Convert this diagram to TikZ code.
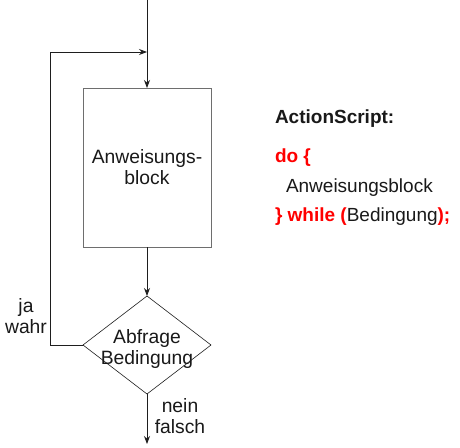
\documentclass[tikz,border=0pt]{standalone}
\usepackage{fontspec}
\setmainfont{Liberation Sans}
\usetikzlibrary{shapes.geometric,arrows.meta}
\definecolor{linec}{HTML}{1E1E1E}
\definecolor{boxc}{HTML}{6E6E6E}
\definecolor{codered}{HTML}{FF0000}
\begin{document}
\begin{tikzpicture}[x=1pt,y=-1pt,
  txt/.style={font=\fontsize{19.3}{20.5}\selectfont, inner sep=0pt, outer sep=0pt, align=center, text=black!90},
  arr/.style={draw=linec, line width=0.9pt, -{Stealth[length=8pt,width=6pt]}},
  blockbox/.style={draw=boxc, line width=0.8pt, minimum width=128pt, minimum height=159pt, inner sep=0pt, outer sep=0pt, align=center, font=\fontsize{19.3}{21}\selectfont, text=black!90},
  decision/.style={diamond, draw=linec, line width=0.6pt, minimum width=128pt, minimum height=98pt, inner sep=0pt, outer sep=0pt},
  code/.style={font=\fontsize{19}{21}\selectfont, inner sep=0pt, outer sep=0pt, anchor=base west, text=black!90}
]
\useasboundingbox (0,0) rectangle (460,447);
\fill[white] (0,0) rectangle (460,447);

\node[blockbox] (box) at (147,167.5) {Anweisungs-\\block};
\node[decision] (dia) at (147,345) {};
\node[txt] (diat) at (147,349) {Abfrage\\Bedingung};

\coordinate (top) at (147,0);
\coordinate (join) at (147,52);
\coordinate (lc) at (50,52);
\coordinate (end) at (147,444);

\draw[arr] (top) -- (box.north);
\draw[arr] (dia.west) -| (lc) -- (join);
\draw[arr] (box.south) -- (dia.north);
\draw[arr] (dia.south) -- (end);

\node[txt] (yes) at (26,316) {ja\\wahr};
\node[txt] (no) at (180,416) {nein\\falsch};

\node[code, font=\fontsize{19}{21}\selectfont\bfseries] (title) at (275,123) {ActionScript:};
\node[code] (l1) at (275,162) {\textcolor{codered}{\bfseries do \{}};
\node[code] (l2) at (286,192) {Anweisungsblock};
\node[code] (l3) at (275,221) {\textcolor{codered}{\bfseries \} while (}Bedingung\textcolor{codered}{\bfseries );}};
\end{tikzpicture}
\end{document}
